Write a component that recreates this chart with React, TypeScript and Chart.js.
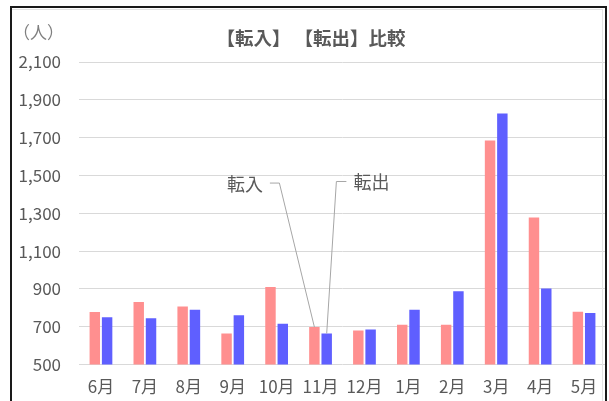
import React, { useEffect, useRef } from 'react';
import { Chart, registerables } from 'chart.js';

Chart.register(...registerables);

const categories = ['6月', '7月', '8月', '9月', '10月', '11月', '12月', '1月', '2月', '3月', '4月', '5月'];
const tennyu = [778, 830, 807, 664, 910, 698, 680, 710, 710, 1685, 1277, 779];
const tenshutsu = [750, 745, 790, 761, 715, 664, 685, 790, 887, 1828, 902, 772];
const seriesNames = ['転入', '転出'];
const yMin = 500;
const yMax = 2100;
const yStep = 200;
const titleText = '【転入】 【転出】比較';
const unitText = '（人）';

const FONT = '"Noto Sans CJK JP", "Noto Sans", sans-serif';
const TEXT = '#595959';

// callout layout (pixel offsets from the bar top)
const callouts = [
  { dataset: 0, index: 5, dx: -35, dy: -144, hx: -9.5, side: -1 },
  { dataset: 1, index: 5, dx: 9.7, dy: -152, hx: 10, side: 1 },
];

const decorPlugin = {
  id: 'decor',
  afterDraw(chart: any) {
    const ctx = chart.ctx;
    ctx.save();
    // title
    ctx.fillStyle = TEXT;
    ctx.font = `bold 18.5px ${FONT}`;
    ctx.textAlign = 'center';
    ctx.textBaseline = 'middle';
    ctx.fillText(titleText, 311, 38);
    // unit
    ctx.fillStyle = '#7f7f7f';
    ctx.font = `17px ${FONT}`;
    ctx.fillText(unitText, 38.5, 33);
    // callouts
    callouts.forEach((c) => {
      const el = chart.getDatasetMeta(c.dataset).data[c.index];
      const bx = el.x;
      const by = el.y;
      const ex = bx + c.dx;
      const ey = by + c.dy;
      const hx = ex + c.hx;
      ctx.strokeStyle = '#a6a6a6';
      ctx.lineWidth = 1;
      ctx.beginPath();
      ctx.moveTo(bx, by);
      ctx.lineTo(ex, ey);
      ctx.lineTo(hx, ey);
      ctx.stroke();
      ctx.fillStyle = TEXT;
      ctx.font = `18px ${FONT}`;
      ctx.textBaseline = 'middle';
      ctx.textAlign = c.side < 0 ? 'right' : 'left';
      ctx.fillText(seriesNames[c.dataset], hx + c.side * 7, ey + 1);
    });
    ctx.restore();
  },
};

export default function App() {
  const ref = useRef<HTMLCanvasElement | null>(null);
  useEffect(() => {
    if (!ref.current) return;
    const chart = new Chart(ref.current, {
      type: 'bar',
      data: {
        labels: categories,
        datasets: [
          { label: seriesNames[0], data: tennyu, backgroundColor: '#ff8f8f', categoryPercentage: 0.56, barPercentage: 0.85 },
          { label: seriesNames[1], data: tenshutsu, backgroundColor: '#5f5fff', categoryPercentage: 0.56, barPercentage: 0.85 },
        ],
      },
      options: {
        animation: false,
        responsive: false,
        layout: { padding: { top: 62, right: 3, left: 0, bottom: 0 } },
        plugins: { legend: { display: false }, tooltip: { enabled: false }, title: { display: false } },
        scales: {
          x: {
            grid: { display: false },
            border: { display: false },
            ticks: { color: TEXT, font: { family: FONT, size: 17 }, padding: 4, maxRotation: 0, autoSkip: false },
            afterFit: (s: any) => { s.height = 36.5; },
          },
          y: {
            min: yMin,
            max: yMax,
            grid: { color: '#d9d9d9', drawTicks: false, lineWidth: 1 },
            border: { display: false },
            ticks: {
              stepSize: yStep,
              color: TEXT,
              padding: 18,
              font: { family: FONT, size: 17 },
              callback: (v: any) => Number(v).toLocaleString('en-US'),
            },
            afterFit: (s: any) => { s.width = 79; },
          },
        },
      },
      plugins: [decorPlugin],
    });
    return () => chart.destroy();
  }, []);

  return (
    <div style={{ position: 'fixed', left: 0, top: 0, width: 609, height: 401, overflow: 'hidden', background: '#fff' }}>
      <canvas ref={ref} width={609} height={401} style={{ position: 'absolute', left: 0, top: 0, width: 609, height: 401 }} />
      <div style={{ position: 'absolute', left: 12, top: 9, width: 591, height: 420, borderTop: '1px solid #e4e4e4', borderRight: '1px solid #e4e4e4', boxSizing: 'border-box' }} />
      <div style={{ position: 'absolute', left: 10, top: 6, width: 597, height: 430, border: '2px solid #1a1a1a', boxSizing: 'border-box' }} />
    </div>
  );
}
